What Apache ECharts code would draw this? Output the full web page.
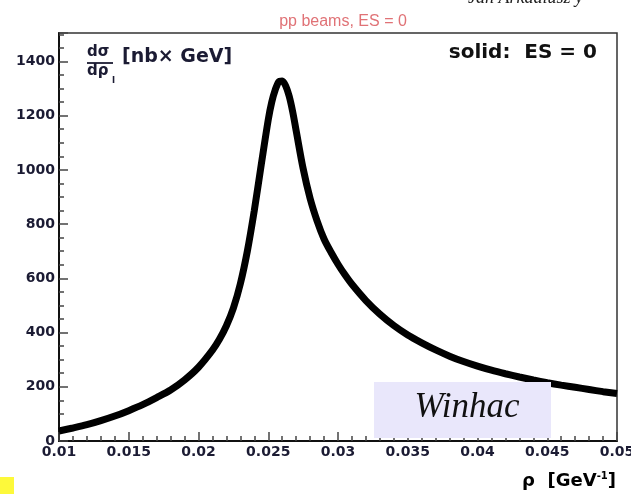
<!DOCTYPE html>
<html>
<head>
<meta charset="utf-8">
<script src="https://cdn.jsdelivr.net/npm/echarts@6/dist/echarts.min.js"></script>
<style>
  html, body { margin: 0; padding: 0; background: #fff; }
  #chart { width: 631px; height: 494px; }
</style>
</head>
<body>
<div id="chart"></div>
<script>
// rho = 1/pT in GeV^-1
const rhoValues = [
  0.010, 0.011, 0.012, 0.013, 0.014, 0.015, 0.016, 0.017, 0.018, 0.019,
  0.020, 0.021, 0.0215, 0.022, 0.0225, 0.023, 0.0235, 0.024, 0.0245, 0.025,
  0.02525, 0.0255, 0.02575, 0.026, 0.02625, 0.0265, 0.02675, 0.027, 0.0275, 0.028,
  0.0285, 0.029, 0.0295, 0.030, 0.0305, 0.031, 0.032, 0.033, 0.034, 0.035,
  0.036, 0.037, 0.038, 0.039, 0.040, 0.041, 0.042, 0.043, 0.044, 0.045,
  0.046, 0.047, 0.048, 0.049, 0.050];
// dsigma/drho in nb x GeV
const xsecValues = [
  37, 48, 60, 75, 92, 112, 134, 160, 188, 225,
  272, 335, 375, 425, 490, 580, 700, 850, 1020, 1185,
  1250, 1295, 1325, 1328, 1310, 1272, 1215, 1145, 1005, 895,
  812, 745, 696, 652, 613, 578, 518, 468, 426, 391,
  362, 336, 313, 293, 276, 261, 248, 236, 225, 215,
  206, 198, 190, 182, 175];
const yTickLabels = ['0', '200', '400', '600', '800', '1000', '1200', '1400'];
const xTickLabels = ['0.01', '0.015', '0.02', '0.025', '0.03', '0.035', '0.04', '0.045', '0.05'];

const SANS = '"DejaVu Sans", Arial, sans-serif';
const INK = '#1b1b33';
const seriesData = rhoValues.map((r, i) => [r, xsecValues[i]]);

const chart = echarts.init(document.getElementById('chart'), null, { renderer: 'canvas' });
chart.setOption({
  animation: false,
  backgroundColor: '#ffffff',
  title: {
    text: 'pp beams, ES = 0',
    left: 338, top: 9, textAlign: 'center',
    textStyle: { color: '#e07276', fontSize: 16, fontWeight: 'normal', fontFamily: '"Liberation Sans", Arial, sans-serif' }
  },
  grid: {
    left: 59, right: 14, top: 33, bottom: 53,
    outerBoundsMode: 'none',
    show: true, borderColor: '#333', borderWidth: 1.5, backgroundColor: 'transparent'
  },
  xAxis: {
    type: 'value', min: 0.01, max: 0.05, interval: 0.005,
    axisLine: { show: true, lineStyle: { color: '#111', width: 2 } },
    axisTick: { show: true, inside: true, length: 9, lineStyle: { color: '#444', width: 1.5 } },
    minorTick: { show: true, splitNumber: 5, length: 5, lineStyle: { color: '#444', width: 1.5 } },
    splitLine: { show: false },
    axisLabel: {
      margin: 4, color: INK, fontSize: 14, fontWeight: 'bold', fontFamily: SANS,
      showMinLabel: true, showMaxLabel: true, hideOverlap: false,
      formatter: v => {
        const k = Math.round((v - 0.01) / 0.005);
        return xTickLabels[k] !== undefined ? xTickLabels[k] : '';
      }
    }
  },
  yAxis: {
    type: 'value', min: 0, max: 1505, interval: 200,
    axisLine: { show: true, lineStyle: { color: '#111', width: 2 } },
    axisTick: { show: true, inside: true, length: 9, lineStyle: { color: '#444', width: 1.5 } },
    minorTick: { show: true, splitNumber: 4, length: 5, lineStyle: { color: '#444', width: 1.5 } },
    splitLine: { show: false },
    axisLabel: {
      margin: 4, color: INK, fontSize: 14, fontWeight: 'bold', fontFamily: SANS,
      showMaxLabel: false,
      formatter: v => {
        const k = Math.round(v / 200);
        return (Math.abs(v - k * 200) < 1e-6 && yTickLabels[k] !== undefined) ? yTickLabels[k] : '';
      }
    }
  },
  series: [{
    type: 'line',
    data: seriesData,
    smooth: 0.3,
    symbol: 'none',
    lineStyle: { color: '#000', width: 7 },
    z: 3
  }],
  graphic: [
    // partly visible signature line at the top right
    { type: 'text', left: 468, top: -11,
      style: { text: 'Jan Arkadiusz y', fill: '#222', font: 'italic 18px "Liberation Serif", serif' } },
    // y-axis quantity label: d(sigma)/d(rho_l) [nb x GeV]
    { type: 'text', left: 87, top: 45,
      style: { text: 'dσ', fill: INK, font: 'bold 15px ' + SANS } },
    { type: 'line', shape: { x1: 87, y1: 63, x2: 113, y2: 63 }, style: { stroke: INK, lineWidth: 1.8 } },
    { type: 'text', left: 87, top: 64,
      style: { text: 'dρ', fill: INK, font: 'bold 15px ' + SANS } },
    { type: 'text', left: 112, top: 76,
      style: { text: 'l', fill: INK, font: 'bold 9px ' + SANS } },
    { type: 'text', left: 122, top: 48,
      style: { text: '[nb× GeV]', fill: INK, font: 'bold 19px ' + SANS } },
    // legend note
    { type: 'text', right: 34, top: 43,
      style: { text: 'solid:  ES = 0', fill: '#111', font: 'bold 20px ' + SANS } },
    // generator label box
    { type: 'rect', shape: { x: 374, y: 382, width: 177, height: 56 },
      style: { fill: '#e9e7fb' }, z: 5 },
    { type: 'text', x: 467, y: 408, z: 6,
      style: { text: 'Winhac', fill: '#111', font: 'italic 35px "Liberation Serif", serif',
        textAlign: 'center', textVerticalAlign: 'middle' } },
    // x-axis title
    { type: 'text', right: 15, top: 471,
      style: {
        text: '{b|ρ  [GeV}{s|-1}{b|]}',
        rich: {
          b: { fontSize: 18, fontWeight: 'bold', fontFamily: SANS, color: '#111' },
          s: { fontSize: 10, fontWeight: 'bold', fontFamily: SANS, color: '#111', verticalAlign: 'top', padding: [0, 0, 10, 0] }
        }
      } },
    // corner marker
    { type: 'rect', shape: { x: 0, y: 477, width: 14, height: 17 }, style: { fill: '#fdf93a' } }
  ]
});
</script>
</body>
</html>
